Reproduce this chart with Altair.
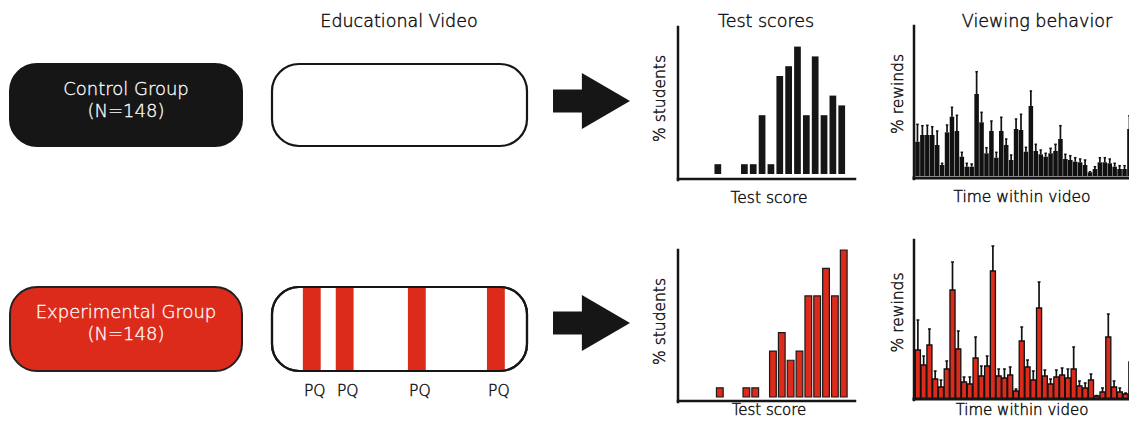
import altair as alt
import pandas as pd

# ---------------- data ----------------
groups = ["Control Group", "Experimental Group"]
group_sizes = [148, 148]
column_titles = ["Educational Video", "Test scores", "Viewing behavior"]
hist_x_title = "Test score"
hist_y_title = "% students"
rew_x_title = "Time within video"
rew_y_title = "% rewinds"
pq_label = "PQ"
pq_positions = [0.156, 0.285, 0.568, 0.878]   # where the pop-up questions sit in the video (fraction)

score_bins = list(range(20))
control_scores = [0, 0, 0, 0, 1, 0, 0, 1, 1, 6, 1, 10, 11, 13, 6, 12, 6, 8, 7, 0]
experimental_scores = [0, 0, 0, 0, 1, 0, 0, 1, 1, 0, 5, 7, 4, 5, 11, 11, 14, 11, 16, 0]

control_rewinds = [32.3, 39, 39, 39, 29, 9, 41.7, 57.3, 43, 17.3, 7.3, 7.3, 80, 51.7, 20.7,
                   43, 16.3, 43, 29, 14, 45, 44, 22.3, 68, 23, 19.7, 17.3, 20.7, 23, 35,
                   15, 14, 12.3, 11.7, 9, 1.7, 5, 11.7, 11.7, 10.7, 7.3, 5, 5, 45, 38]
control_rewinds_err = [49.7, 48.3, 48.7, 47.3, 43, 10.7, 49, 66.7, 58.7, 21.7, 10.7, 10, 102.3, 61.7, 26.3,
                       53, 21.7, 56.7, 35, 19, 55, 59.7, 26.7, 83, 29.7, 24, 20.7, 25.7, 29.7, 48.3,
                       19.7, 18.3, 16.3, 15, 14, 2.3, 7.3, 16.3, 16.3, 15, 10.7, 8.3, 8.3, 58.3, 44]
experimental_rewinds = [47, 32, 52, 18, 10, 28, 107, 48, 15, 13, 39, 21, 31, 126, 21, 19, 22, 6,
                        56, 30, 17, 89, 21, 13, 20, 22, 19, 28, 11, 9, 17, 1, 5, 60, 10, 5, 3, 35, 79]
experimental_rewinds_err = [77, 41, 68, 26, 17, 36, 135, 66, 20, 20, 60, 31, 41, 151, 28, 28, 30, 8,
                            70, 37, 26, 115, 27, 18, 27, 29, 28, 50, 16, 14, 23, 1.5, 9, 83, 16, 9, 4, 47, 112]

# ---------------- style / layout ----------------
FONT = "DejaVu Sans"
INK = "#161616"
RED = "#dc2b1b"
TXT = "#111111"
W, H = 1121, 411

one = pd.DataFrame({"k": [0]})


def text(label, x, y, size, color=TXT, angle=0, baseline="middle", sw=0.45):
    return alt.Chart(pd.DataFrame({"t": [label]})).mark_text(
        font=FONT, fontSize=size, fontWeight=300, color=color, stroke=color, strokeWidth=sw,
        angle=angle, align="center", baseline=baseline
    ).encode(x=alt.value(x), y=alt.value(y), text="t:N")


def rbox(x0, x1, y0, y1, fill, stroke, sw, filled=True):
    kw = dict(cornerRadius=27, stroke=stroke, strokeWidth=sw)
    if filled:
        m = alt.Chart(one).mark_rect(fill=fill, **kw)
    else:
        m = alt.Chart(one).mark_rect(filled=False, **kw)
    return m.encode(x=alt.value(x0), x2=alt.value(x1), y=alt.value(y0), y2=alt.value(y1))


def rule(x0, x1, y0, y1, sw=2.5, color=INK):
    return alt.Chart(one).mark_rule(strokeWidth=sw, color=color, strokeCap="square").encode(
        x=alt.value(x0), x2=alt.value(x1), y=alt.value(y0), y2=alt.value(y1))


ARROW = "M-1,-0.3 L-0.25,-0.3 L-0.25,-0.73 L1,0 L-0.25,0.73 L-0.25,0.3 L-1,0.3 Z"


def arrow(cx, cy):
    return alt.Chart(one).mark_point(shape=ARROW, size=5929, filled=True, color=INK,
                                     opacity=1, strokeWidth=0).encode(x=alt.value(cx), y=alt.value(cy))


layers = []

# titles
layers.append(text(column_titles[0], 391, 14, 17.5))
layers.append(text(column_titles[1], 758, 14, 17.5))
layers.append(text(column_titles[2], 1029, 14, 17.5))

# rows: box band, arrow centre, histogram (top, base, axis), rewinds (top, base, axis)
rows = [
    dict(y0=56, y1=138, fill=INK, stroke=INK, arrow_y=93, hy=(19, 166, 171), ry=(18, 166, 170)),
    dict(y0=279, y1=363, fill=RED, stroke="#222", arrow_y=315, hy=(242, 389, 393), ry=(232, 389, 391)),
]
for i, r in enumerate(rows):
    layers.append(rbox(2, 234, r["y0"], r["y1"], r["fill"], r["stroke"], 2))
    layers.append(text(groups[i], 118, r["y0"] + 26, 18, color="white", sw=0.3))
    layers.append(text(f"(N={group_sizes[i]})", 118, r["y0"] + 48, 18, color="white", sw=0.3))
    # video box
    layers.append(rbox(264, 519, r["y0"], r["y1"], "white", INK, 2.2))
    layers.append(arrow(583.5, r["arrow_y"]))

# pop-up question stripes (experimental video)
pq = pd.DataFrame({"pos": pq_positions})
pq_x = alt.Scale(domain=[0, 1], range=[264, 519], nice=False, zero=False)
r = rows[1]
layers.append(
    alt.Chart(pq).transform_calculate(lo="datum.pos - 0.035", hi="datum.pos + 0.035")
    .mark_rect(fill=RED)
    .encode(x=alt.X("lo:Q", scale=pq_x, axis=None), x2="hi:Q",
            y=alt.value(r["y0"] + 1), y2=alt.value(r["y1"] - 1))
)
layers.append(rbox(264, 519, r["y0"], r["y1"], "white", INK, 2.2, filled=False))
layers.append(
    alt.Chart(pq).transform_calculate(t=f"'{pq_label}'")
    .mark_text(font=FONT, fontSize=15.5, fontWeight=300, color=TXT, stroke=TXT, strokeWidth=0.45,
               dx=3, baseline="middle")
    .encode(x=alt.X("pos:Q", scale=pq_x, axis=None), y=alt.value(r["y1"] + 20), text="t:N")
)

# ---------------- test-score histograms ----------------
hist = pd.DataFrame({"bin": score_bins, "control": control_scores, "experimental": experimental_scores})
hist_specs = [("control", 15, rows[0]["hy"], INK, None, [670, 847]),
              ("experimental", 16, rows[1]["hy"], RED, "#1a1a1a", [672, 849])]
for field, ymax, (ytop, ybase, yaxis), fill, stroke, xr in hist_specs:
    kw = dict(fill=fill)
    if stroke:
        kw.update(stroke=stroke, strokeWidth=1.2)
    layers.append(
        alt.Chart(hist).transform_filter(f"datum.{field} > 0")
        .transform_calculate(lo="datum.bin + 0.12", hi="datum.bin + 0.88", zero="0")
        .mark_rect(**kw)
        .encode(
            x=alt.X("lo:Q", scale=alt.Scale(domain=[0, 20], range=xr, nice=False, zero=False), axis=None),
            x2="hi:Q",
            y=alt.Y(f"{field}:Q", scale=alt.Scale(domain=[0, ymax], range=[ybase, ytop], nice=False), axis=None),
            y2="zero:Q",
        )
    )
    layers.append(rule(670, 670, ytop, yaxis + 1))
    layers.append(rule(670, 847, yaxis, yaxis))
    layers.append(text(hist_y_title, 652, (ytop + ybase) / 2 - 2, 15.5, angle=270))
    if field == "control":
        layers.append(text(hist_x_title, 761, yaxis + 19, 15.5))
    else:
        layers.append(text(hist_x_title, 761, 407, 15, baseline="alphabetic"))

# ---------------- rewinds ----------------
rew_specs = [
    (control_rewinds, control_rewinds_err, 148, rows[0]["ry"], "#111", None, 0.04, 0.96),
    (experimental_rewinds, experimental_rewinds_err, 157, rows[1]["ry"], RED, "#111", 0.06, 0.94),
]
for k, (vals, errs, ymax, (ytop, ybase, yaxis), fill, stroke, a, b) in enumerate(rew_specs):
    n = len(vals)
    pitch = 4.93 if k == 0 else 5.77
    df = pd.DataFrame({"t": list(range(n)), "v": vals, "e": errs})
    xs = alt.Scale(domain=[0, n], range=[907, 907 + n * pitch], nice=False, zero=False)
    ys = alt.Scale(domain=[0, ymax], range=[ybase, ytop], nice=False)
    base = alt.Chart(df).transform_calculate(
        lo=f"datum.t + {a}", hi=f"datum.t + {b}", mid="datum.t + 0.5",
        clo="datum.t + 0.25", chi="datum.t + 0.75", zero="-2")
    kw = dict(fill=fill)
    if stroke:
        kw.update(stroke=stroke, strokeWidth=1.3)
    layers.append(base.mark_rect(**kw).encode(
        x=alt.X("lo:Q", scale=xs, axis=None), x2="hi:Q",
        y=alt.Y("v:Q", scale=ys, axis=None), y2="zero:Q"))
    layers.append(base.mark_rule(color="#111", strokeWidth=1.7).encode(
        x=alt.X("mid:Q", scale=xs, axis=None),
        y=alt.Y("v:Q", scale=ys, axis=None), y2="e:Q"))
    layers.append(base.mark_rule(color="#111", strokeWidth=1.5).encode(
        x=alt.X("clo:Q", scale=xs, axis=None), x2="chi:Q",
        y=alt.Y("e:Q", scale=ys, axis=None)))
    layers.append(rule(906, 906, ytop, yaxis + 1))
    layers.append(rule(906, W, yaxis, yaxis, sw=3))
    layers.append(text(rew_y_title, 890, (ytop + ybase) / 2 - 6, 15.5, angle=270))
    if k == 0:
        layers.append(text(rew_x_title, 1014, yaxis + 19, 15.5))
    else:
        layers.append(text(rew_x_title, 1014, 407, 15, baseline="alphabetic"))

chart = (
    alt.layer(*layers)
    .resolve_scale(x="independent", y="independent")
    .properties(width=W, height=H, padding=0, autosize=alt.AutoSizeParams(type="none"))
    .configure_view(stroke=None)
)

chart.save("out.html", embed_options={"renderer": "svg", "actions": False})
